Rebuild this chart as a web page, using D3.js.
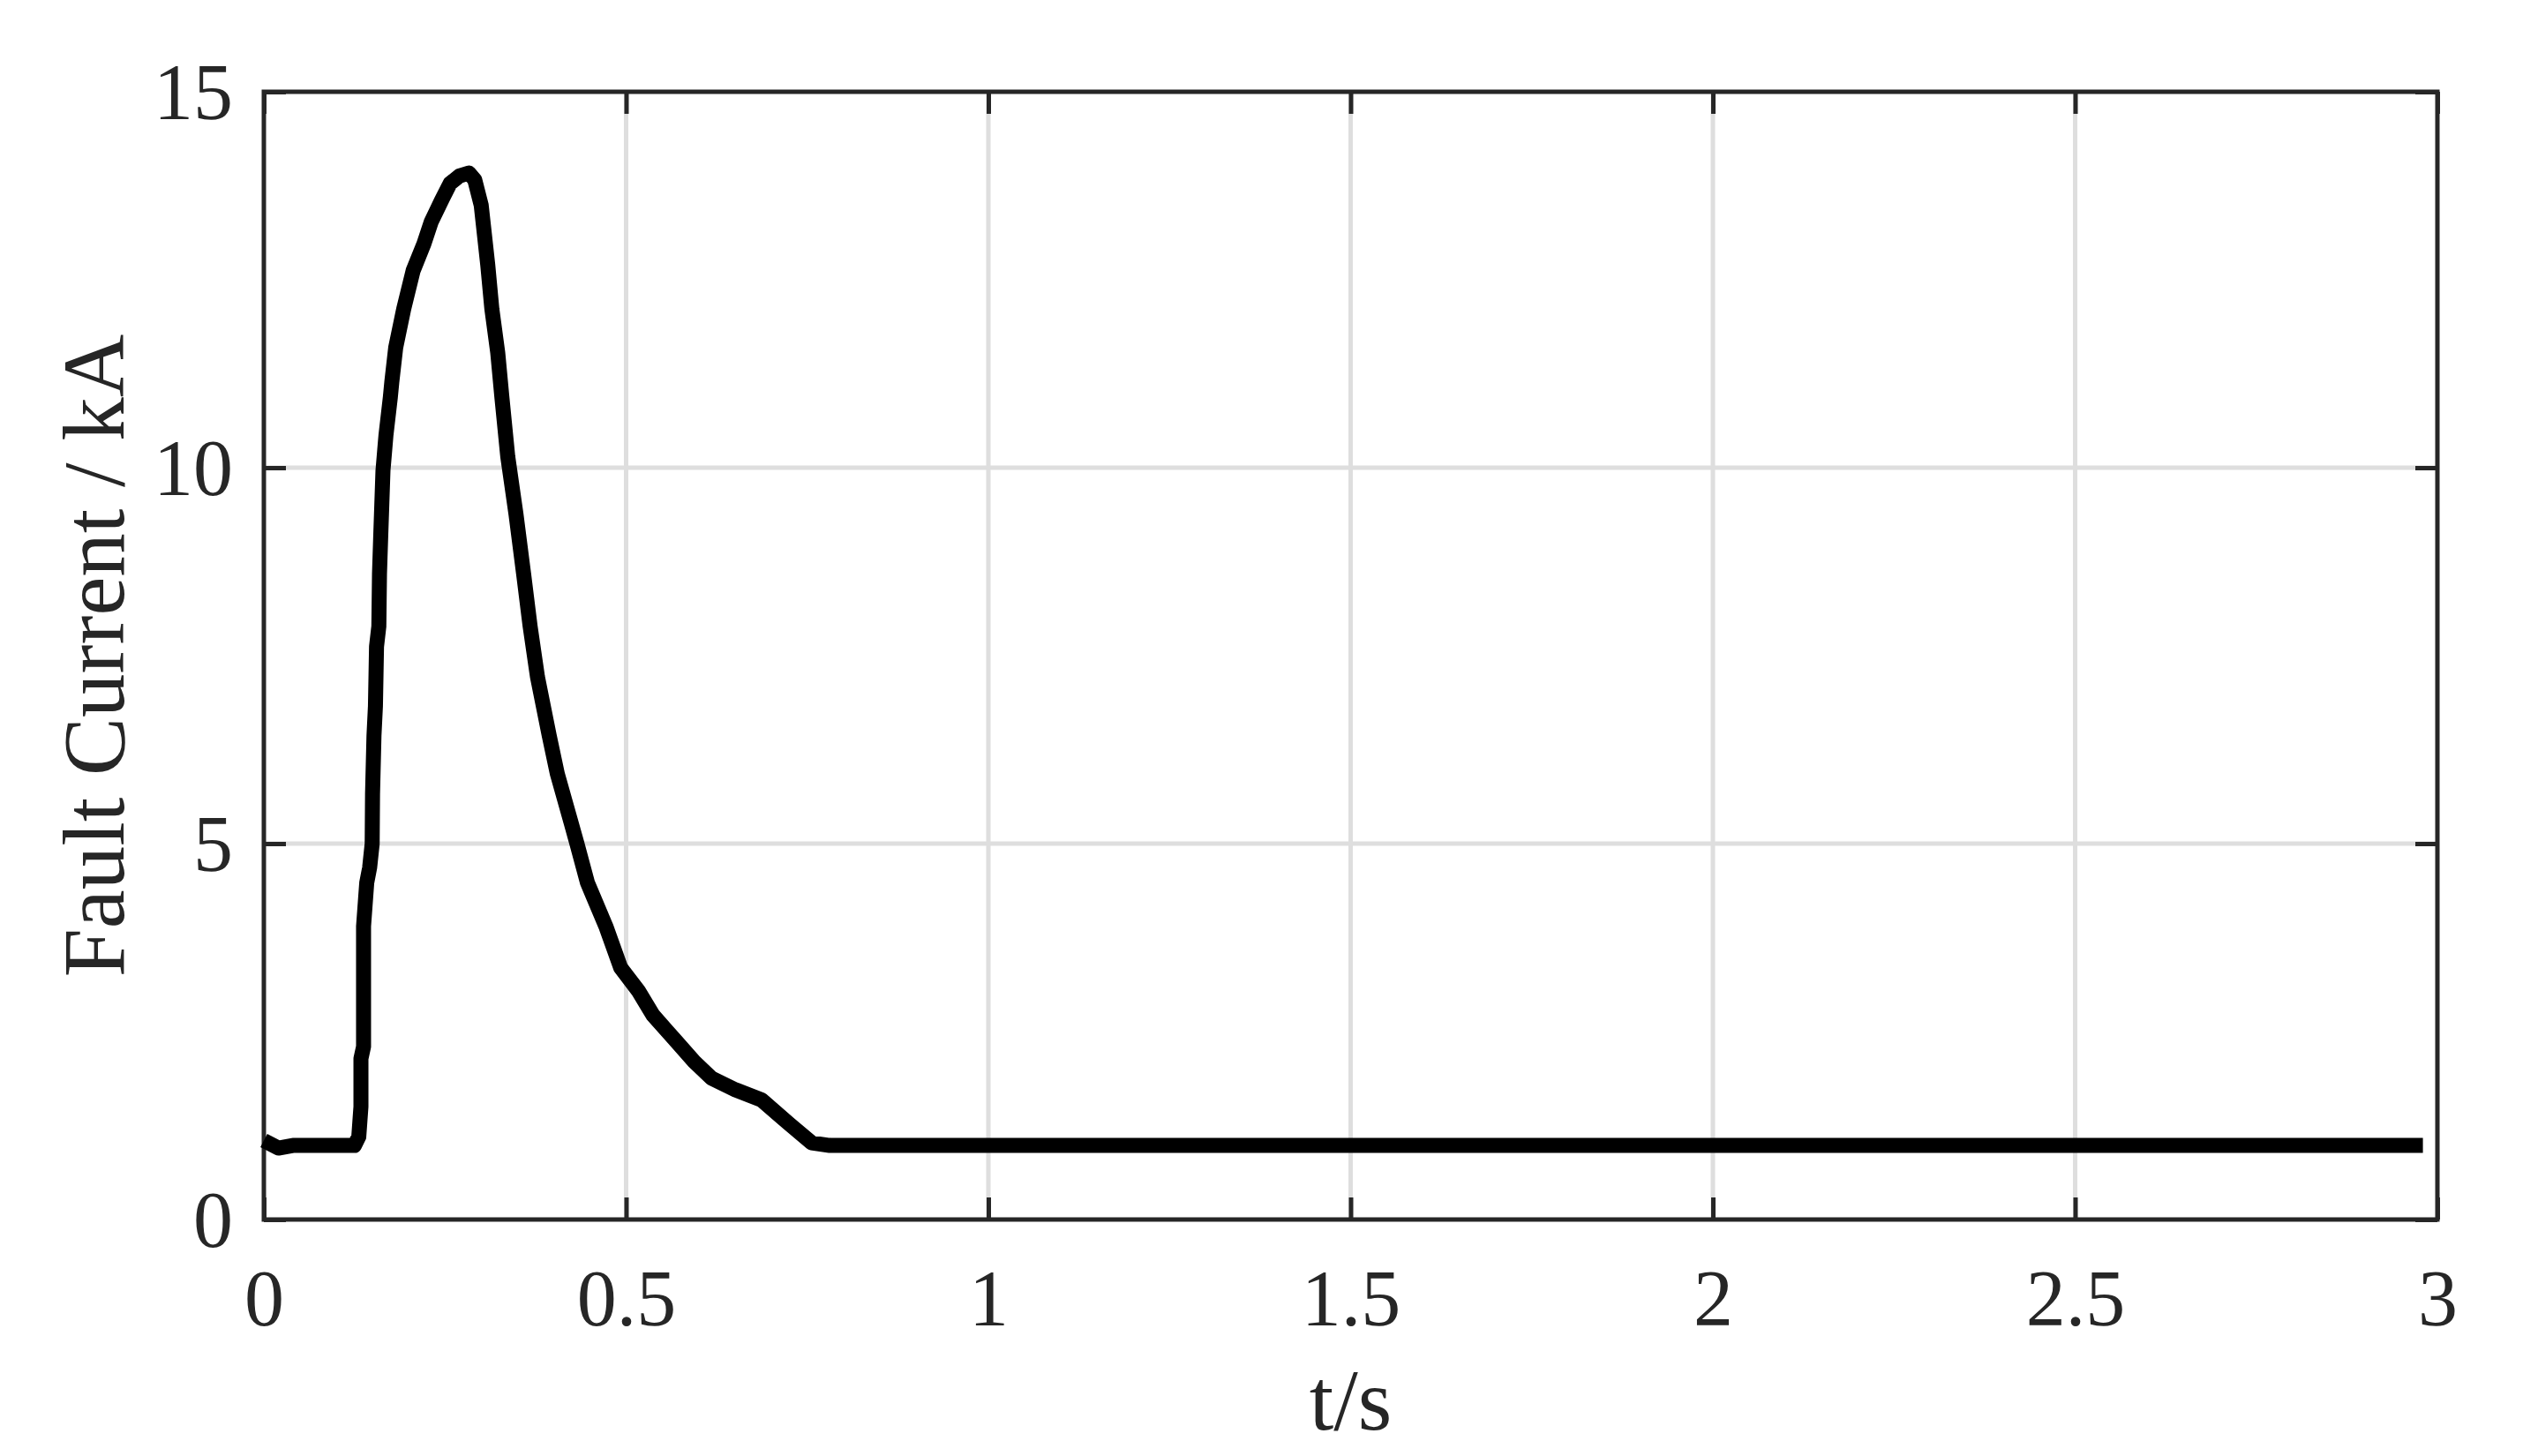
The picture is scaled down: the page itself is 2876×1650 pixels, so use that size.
<!DOCTYPE html>
<html>
<head>
<meta charset="utf-8">
<script src="https://cdn.jsdelivr.net/npm/d3@7"></script>
<style>
  body { margin: 0; background: #fff; }
  svg { display: block; }
  text { font-family: "Liberation Serif", "Times New Roman", serif; fill: #262626; }
</style>
</head>
<body>
<svg id="chart"></svg>
<script>
// fault current trace
var timeS = [0, 0.02, 0.04, 0.125, 0.131, 0.134, 0.134, 0.1376, 0.1376, 0.142, 0.146, 0.1495,
  0.150, 0.152, 0.154, 0.1555, 0.1587, 0.1596, 0.1612, 0.1644, 0.1685, 0.1746, 0.1766, 0.182,
  0.193, 0.206, 0.221, 0.231, 0.245, 0.257, 0.27, 0.283, 0.291, 0.300, 0.309, 0.3147, 0.3228,
  0.3285, 0.3366, 0.348, 0.3585, 0.3675, 0.3776, 0.3938, 0.405, 0.4243, 0.4324, 0.4466, 0.472,
  0.4925, 0.517, 0.537, 0.5655, 0.594, 0.618, 0.651, 0.687, 0.724, 0.756, 0.781, 2.98];
var currentKA = [1.05, 0.95, 0.985, 0.985, 1.1, 1.5, 2.14, 2.3, 3.9, 4.48, 4.68, 5.0,
  5.66, 6.44, 6.83, 7.62, 7.89, 8.59, 9.06, 9.96, 10.43, 10.94, 11.14, 11.6,
  12.11, 12.62, 12.98, 13.27, 13.55, 13.78, 13.88, 13.92, 13.83, 13.49, 12.7, 12.11, 11.53,
  10.94, 10.15, 9.38, 8.59, 7.89, 7.22, 6.44, 5.93, 5.27, 4.99, 4.48, 3.9,
  3.35, 3.04, 2.72, 2.41, 2.10, 1.88, 1.725, 1.59, 1.28, 1.02, 0.985, 0.985];

var xTicks = [0, 0.5, 1, 1.5, 2, 2.5, 3];
var yTicks = [0, 5, 10, 15];
var xLabel = "t/s";
var yLabel = "Fault Current / kA";

var WIDTH = 2876, HEIGHT = 1650,
    MARGINS = { top: 104, right: 114, bottom: 268, left: 299 };

var svg = d3.select("#chart").attr("width", WIDTH).attr("height", HEIGHT);

var x = d3.scaleLinear().domain([0, 3]).range([MARGINS.left, WIDTH - MARGINS.right]);
var y = d3.scaleLinear().domain([0, 15]).range([HEIGHT - MARGINS.bottom, MARGINS.top]);

var x0 = x(0), x1 = x(3), y0 = y(0), y1 = y(15);

// grid
var grid = svg.append("g").attr("stroke", "#dedede").attr("stroke-width", 5);
grid.selectAll("line.gx").data(xTicks.slice(1, -1)).enter().append("line")
  .attr("x1", function(d) { return x(d); }).attr("x2", function(d) { return x(d); })
  .attr("y1", y1).attr("y2", y0);
grid.selectAll("line.gy").data(yTicks.slice(1, -1)).enter().append("line")
  .attr("x1", x0).attr("x2", x1)
  .attr("y1", function(d) { return y(d); }).attr("y2", function(d) { return y(d); });

// axes with inward ticks
function styleAxis(g) {
  g.select(".domain").remove();
  g.selectAll(".tick line").attr("stroke", "#262626").attr("stroke-width", 5);
  g.selectAll(".tick text").attr("font-size", 90).attr("fill", "#262626")
    .style("font-family", '"Liberation Serif", "Times New Roman", serif');
}

svg.append("g")
  .attr("transform", "translate(0," + y0 + ")")
  .call(d3.axisBottom(x).tickValues(xTicks).tickFormat(d3.format("")).tickSizeInner(-25).tickSizeOuter(0).tickPadding(56))
  .call(styleAxis);

svg.append("g")
  .attr("transform", "translate(" + x0 + ",0)")
  .call(d3.axisLeft(y).tickValues(yTicks).tickFormat(d3.format("")).tickSizeInner(-25).tickSizeOuter(0).tickPadding(35))
  .call(styleAxis)
  .selectAll(".tick text").attr("dy", "0.34em");

svg.append("g")
  .attr("transform", "translate(0," + y1 + ")")
  .call(d3.axisTop(x).tickValues(xTicks).tickFormat("").tickSizeInner(-25).tickSizeOuter(0))
  .call(styleAxis);

svg.append("g")
  .attr("transform", "translate(" + x1 + ",0)")
  .call(d3.axisRight(y).tickValues(yTicks).tickFormat("").tickSizeInner(-25).tickSizeOuter(0))
  .call(styleAxis);

// box
svg.append("rect")
  .attr("x", x0).attr("y", y1)
  .attr("width", x1 - x0).attr("height", y0 - y1)
  .attr("fill", "none").attr("stroke", "#262626").attr("stroke-width", 5);

// data line
var lineData = timeS.map(function(t, i) { return { t: t, v: currentKA[i] }; });
var lineFunc = d3.line()
  .x(function(d) { return x(d.t); })
  .y(function(d) { return y(d.v); });

svg.append("path")
  .attr("d", lineFunc(lineData))
  .attr("fill", "none")
  .attr("stroke", "#000")
  .attr("stroke-width", 17)
  .attr("stroke-linejoin", "round")
  .attr("stroke-linecap", "butt");

// labels
svg.append("text")
  .attr("x", (x0 + x1) / 2).attr("y", 1620)
  .attr("text-anchor", "middle").attr("font-size", 99)
  .text(xLabel);

svg.append("text")
  .attr("transform", "translate(140," + ((y0 + y1) / 2) + ") rotate(-90)")
  .attr("text-anchor", "middle").attr("font-size", 99)
  .text(yLabel);
</script>
</body>
</html>
